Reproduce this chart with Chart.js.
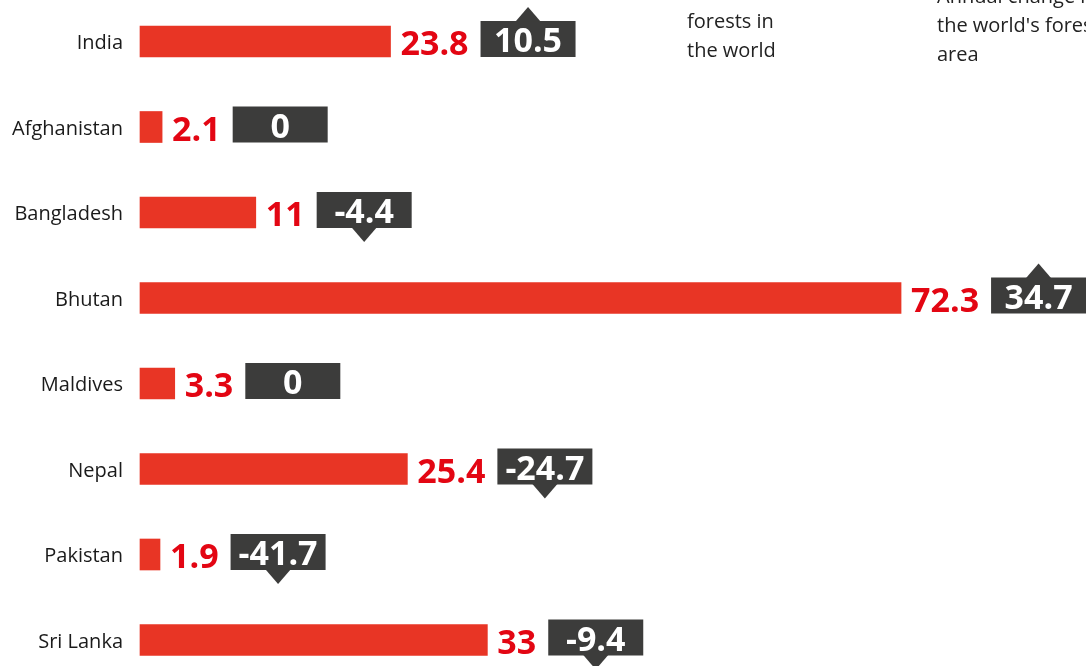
<!DOCTYPE html>
<html>
<head>
<meta charset="utf-8">
<script src="https://cdn.jsdelivr.net/npm/chart.js@4"></script>
<style>
    html, body { margin: 0; padding: 0; background: #ffffff; overflow: hidden; }
    #wrap { position: relative; width: 1086px; height: 666px; }
    .note {
        position: absolute;
        font-family: 'Open Sans', sans-serif;
        font-size: 20px;
        line-height: 29px;
        color: #222222;
        white-space: nowrap;
    }
</style>
</head>
<body>
<div id="wrap">
    <canvas id="forest-chart" width="1086" height="666"></canvas>
    <div class="note" style="left:687px; top:6px;">forests in<br>the world</div>
    <div class="note" style="left:937px; top:-19px;">Annual change in<br>the world's forest<br>area</div>
</div>
<script>
// Chart data
const countries = ['India', 'Afghanistan', 'Bangladesh', 'Bhutan', 'Maldives', 'Nepal', 'Pakistan', 'Sri Lanka'];
const forestCover = [23.8, 2.1, 11, 72.3, 3.3, 25.4, 1.9, 33];
const annualChange = [10.5, 0, -4.4, 34.7, 0, -24.7, -41.7, -9.4];

const COLORS = {
    bar: '#e83525',
    value: '#e30613',
    box: '#3c3c3b',
    boxText: '#ffffff',
    label: '#1a1a1a'
};

const NUM_FONT = 'bold 34px "Open Sans", sans-serif';

// Draw value labels and change boxes next to each bar
const valueLabels = {
    id: 'valueLabels',
    afterDatasetsDraw(chart) {
        const ctx = chart.ctx;
        const meta = chart.getDatasetMeta(0);
        ctx.save();
        ctx.font = NUM_FONT;
        ctx.textBaseline = 'alphabetic';

        meta.data.forEach((bar, i) => {
            const cy = bar.y;
            const text = String(forestCover[i]);

            // Red forest cover value
            ctx.fillStyle = COLORS.value;
            ctx.textAlign = 'left';
            const tx = bar.x + 10;
            ctx.fillText(text, tx, cy + 13.5);
            const tw = ctx.measureText(text).width;

            // Dark change box
            const bw = 95;
            const bh = 36;
            const bx = tx + tw + 12;
            const by = cy - 20.5;
            ctx.fillStyle = COLORS.box;
            ctx.fillRect(bx, by, bw, bh);

            // Arrow up or down
            const change = annualChange[i];
            const mid = bx + bw / 2;
            if (change > 0) {
                ctx.beginPath();
                ctx.moveTo(mid - 12.5, by + 0.5);
                ctx.lineTo(mid, by - 14);
                ctx.lineTo(mid + 12.5, by + 0.5);
                ctx.closePath();
                ctx.fill();
            } else if (change < 0) {
                ctx.beginPath();
                ctx.moveTo(mid - 12.5, by + bh - 0.5);
                ctx.lineTo(mid, by + bh + 14);
                ctx.lineTo(mid + 12.5, by + bh - 0.5);
                ctx.closePath();
                ctx.fill();
            }

            ctx.fillStyle = COLORS.boxText;
            ctx.textAlign = 'center';
            ctx.fillText(String(change), mid, by + bh - 5);
        });
        ctx.restore();
    }
};

new Chart(document.getElementById('forest-chart'), {
    type: 'bar',
    data: {
        labels: countries,
        datasets: [{
            data: forestCover,
            backgroundColor: COLORS.bar,
            barThickness: 31,
            clip: false
        }]
    },
    options: {
        indexAxis: 'y',
        responsive: false,
        animation: false,
        layout: {
            padding: { top: 41.5, bottom: 26, left: 0, right: 0 }
        },
        plugins: {
            legend: { display: false },
            tooltip: { enabled: false }
        },
        scales: {
            x: {
                display: false,
                min: 0,
                max: 89.87
            },
            y: {
                offset: false,
                grid: { display: false },
                border: { display: false },
                ticks: {
                    color: COLORS.label,
                    padding: 9,
                    labelOffset: 2,
                    font: { family: '"Open Sans", sans-serif', size: 20 }
                },
                afterFit: scale => { scale.width = 140; }
            }
        }
    },
    plugins: [valueLabels]
});
</script>
</body>
</html>
